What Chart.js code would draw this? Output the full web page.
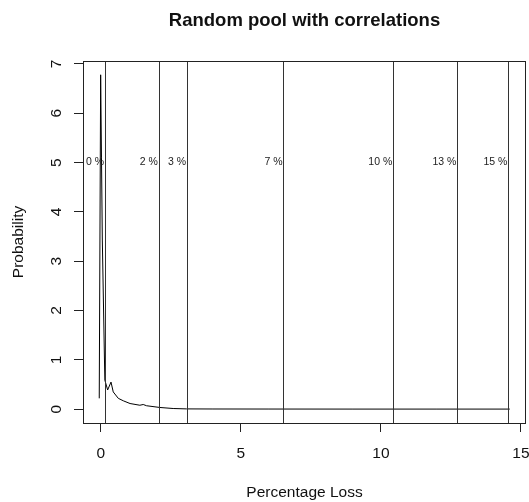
<!DOCTYPE html>
<html>
<head>
<meta charset="utf-8">
<script src="https://cdn.jsdelivr.net/npm/chart.js@4.4.0/dist/chart.umd.min.js"></script>
<style>
  html, body { margin: 0; padding: 0; background: #fff; }
  #wrap { width: 529px; height: 502px; }
</style>
</head>
<body>
<div id="wrap"><canvas id="lossChart" width="529" height="502"></canvas></div>
<script>
// density of the percentage loss
const lossX = [-0.06, -0.01, 0.05, 0.14, 0.24, 0.36, 0.44, 0.62, 0.8, 1.04, 1.39, 1.51, 1.63, 2.1, 2.58, 3.06, 4, 6, 9, 12, 14.6];
const lossDensity = [0.22, 6.78, 3.43, 0.59, 0.39, 0.55, 0.35, 0.22, 0.17, 0.115, 0.08, 0.095, 0.07, 0.035, 0.014, 0.006, 0.004, 0.003, 0.002, 0.002, 0.002];

// quantile markers
const quantileX = [0.15, 2.07, 3.08, 6.52, 10.44, 12.73, 14.55];
const quantileLabels = ['0 %', '2 %', '3 %', '7 %', '10 %', '13 %', '15 %'];
const quantileLabelY = 5;

const xTicks = [0, 5, 10, 15];
const yTicks = [0, 1, 2, 3, 4, 5, 6, 7];

const chartTitle = 'Random pool with correlations';

Chart.defaults.font.family = '"Liberation Sans", Arial, Helvetica, sans-serif';
Chart.defaults.color = '#111';

const fontFamily = Chart.defaults.font.family;

// white background, box, abline-style markers, rotated y labels and the main title
const rStyle = {
    id: 'rStyle',
    beforeDraw(chart) {
        const ctx = chart.ctx;
        ctx.save();
        ctx.fillStyle = '#fff';
        ctx.fillRect(0, 0, chart.width, chart.height);
        ctx.restore();
    },
    afterDatasetsDraw(chart) {
        const { ctx, chartArea, scales } = chart;
        const { left, right, top, bottom } = chartArea;
        ctx.save();

        // vertical quantile lines
        ctx.strokeStyle = '#333';
        ctx.lineWidth = 1;
        quantileX.forEach(q => {
            const px = Math.round(scales.x.getPixelForValue(q)) + 0.5;
            ctx.beginPath();
            ctx.moveTo(px, top);
            ctx.lineTo(px, bottom);
            ctx.stroke();
        });

        // labels left of each line
        ctx.fillStyle = '#222';
        ctx.font = '10.5px ' + fontFamily;
        ctx.textAlign = 'right';
        ctx.textBaseline = 'middle';
        const ly = scales.y.getPixelForValue(quantileLabelY);
        quantileX.forEach((q, i) => {
            const px = scales.x.getPixelForValue(q);
            ctx.fillText(quantileLabels[i], px - 1, ly);
        });

        // box round the plot region
        ctx.strokeStyle = '#222';
        ctx.strokeRect(Math.round(left) + 0.5, Math.round(top) + 0.5,
            Math.round(right - left) - 1, Math.round(bottom - top));

        // y tick labels, turned like R's default (las = 0)
        ctx.fillStyle = '#111';
        ctx.font = '15.5px ' + fontFamily;
        ctx.textAlign = 'center';
        ctx.textBaseline = 'middle';
        yTicks.forEach(v => {
            ctx.save();
            ctx.translate(left - 26, scales.y.getPixelForValue(v));
            ctx.rotate(-Math.PI / 2);
            ctx.fillText(String(v), 0, 0);
            ctx.restore();
        });

        // main title, centred on the plot region
        ctx.font = 'bold 18.5px ' + fontFamily;
        ctx.fillText(chartTitle, (left + right) / 2, 21);

        ctx.restore();
    }
};

const ctx = document.getElementById('lossChart').getContext('2d');
new Chart(ctx, {
    type: 'line',
    data: {
        datasets: [{
            data: lossX.map((x, i) => ({ x: x, y: lossDensity[i] })),
            borderColor: '#000',
            borderWidth: 1,
            pointRadius: 0,
            tension: 0,
            fill: false
        }]
    },
    options: {
        responsive: false,
        animation: false,
        devicePixelRatio: 1,
        layout: { padding: { top: 61, right: 3, left: 0, bottom: 0 } },
        plugins: {
            legend: { display: false },
            tooltip: { enabled: false },
            title: { display: false }
        },
        scales: {
            x: {
                type: 'linear',
                min: -0.64,
                max: 15.18,
                afterBuildTicks: scale => { scale.ticks = xTicks.map(v => ({ value: v })); },
                afterFit: scale => {
                    scale.height = 79;
                    scale.paddingLeft = 0;
                    scale.paddingRight = 0;
                },
                grid: { drawOnChartArea: false, tickLength: 9, color: '#222' },
                border: { display: false },
                ticks: { padding: 12, maxRotation: 0, autoSkip: false, font: { size: 15.5 } },
                title: {
                    display: true,
                    text: 'Percentage Loss',
                    font: { size: 15.5 },
                    padding: { top: 0, bottom: 0 }
                }
            },
            y: {
                type: 'linear',
                min: -0.28,
                max: 7.06,
                afterBuildTicks: scale => { scale.ticks = yTicks.map(v => ({ value: v })); },
                afterFit: scale => {
                    scale.width = 83;
                    scale.paddingTop = 0;
                    scale.paddingBottom = 0;
                },
                grid: { drawOnChartArea: false, tickLength: 9, color: '#222' },
                border: { display: false },
                ticks: { display: false },
                title: {
                    display: true,
                    text: 'Probability',
                    font: { size: 15.5 },
                    padding: { top: 9, bottom: 0 }
                }
            }
        }
    },
    plugins: [rStyle]
});
</script>
</body>
</html>
